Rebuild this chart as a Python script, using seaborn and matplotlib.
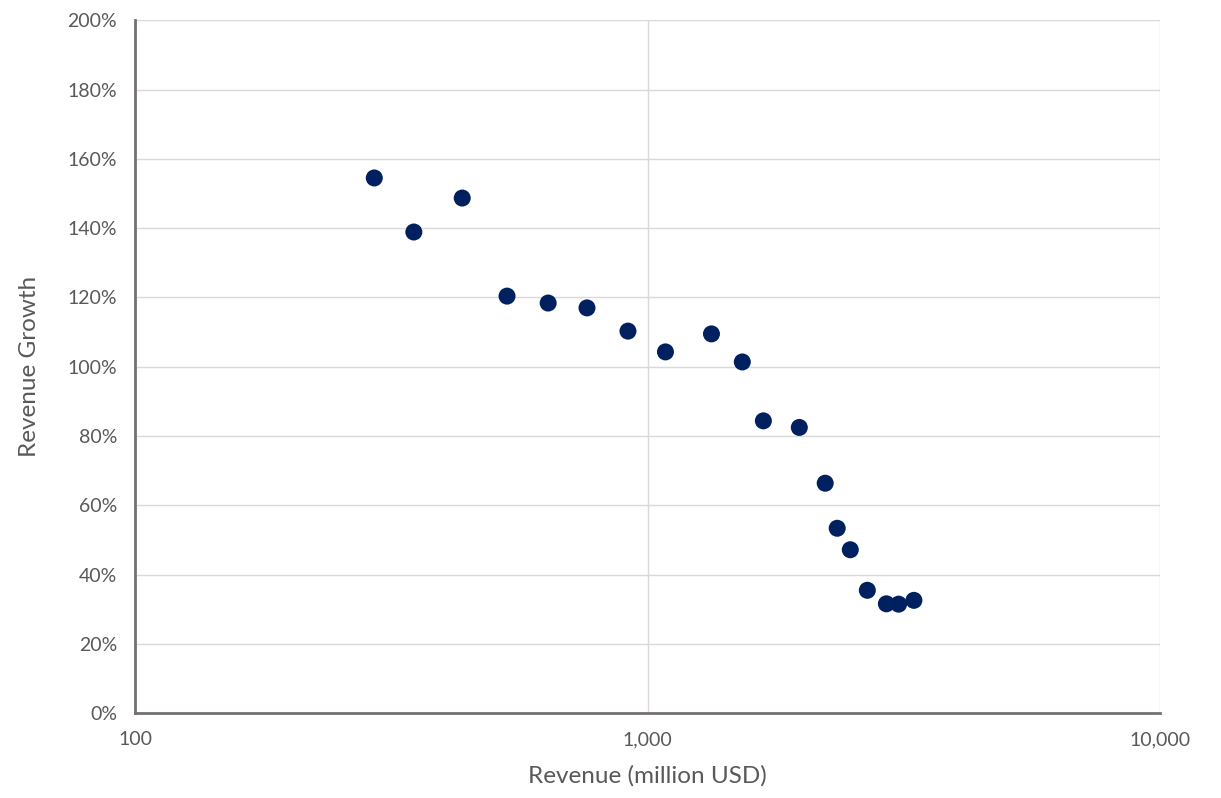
import matplotlib
matplotlib.use("Agg")
import matplotlib.pyplot as plt
import matplotlib.ticker as mticker
import seaborn as sns
import pandas as pd

revenue = [293, 350, 435, 532, 640, 762, 916, 1084, 1333, 1531, 1683, 1978,
           2222, 2345, 2487, 2685, 2925, 3090, 3310]
growth = [1.545, 1.389, 1.487, 1.204, 1.184, 1.170, 1.103, 1.043, 1.095, 1.014,
          0.844, 0.825, 0.664, 0.534, 0.472, 0.355, 0.316, 0.315, 0.326]
x_ticks = [100, 1000, 10000]
x_tick_labels = ["100", "1,000", "10,000"]

df = pd.DataFrame({"Revenue": revenue, "Growth": growth})

sns.set_style("white")
plt.rcParams['font.family'] = ['Lato', 'DejaVu Sans']

fig = plt.figure(figsize=(12.21, 7.98), dpi=100)
ax = fig.add_axes([135/1221, 1-713.3/798, (1160-135)/1221, (713.3-20.3)/798])

sns.scatterplot(data=df, x="Revenue", y="Growth", ax=ax, color="#002060",
                s=150, edgecolor="none", zorder=3)

ax.set_xscale("log")
ax.set_xlim(100, 10000)
ax.set_ylim(0, 2.0)
ax.set_xticks(x_ticks)
ax.set_xticklabels(x_tick_labels)
ax.xaxis.set_minor_locator(mticker.NullLocator())
ax.set_yticks([i * 0.2 for i in range(11)])
ax.yaxis.set_major_formatter(mticker.FuncFormatter(lambda v, p: f"{v*100:.0f}%"))

ax.grid(True, which="major", axis="both", color="#d9d9d9", linewidth=1, zorder=0)
ax.set_axisbelow(True)

for side in ["top", "right"]:
    ax.spines[side].set_visible(False)
for side in ["left", "bottom"]:
    ax.spines[side].set_color("#767171")
    ax.spines[side].set_linewidth(2)

ax.tick_params(axis="both", which="major", direction="out", length=6, width=2,
               color="#767171", labelcolor="#595959", labelsize=14, pad=7)

ax.set_xlabel("Revenue (million USD)", fontsize=17.5, color="#595959", labelpad=12)
ax.set_ylabel("Revenue Growth", fontsize=17.5, color="#595959", labelpad=20)

fig.savefig("out.png", dpi=100)
